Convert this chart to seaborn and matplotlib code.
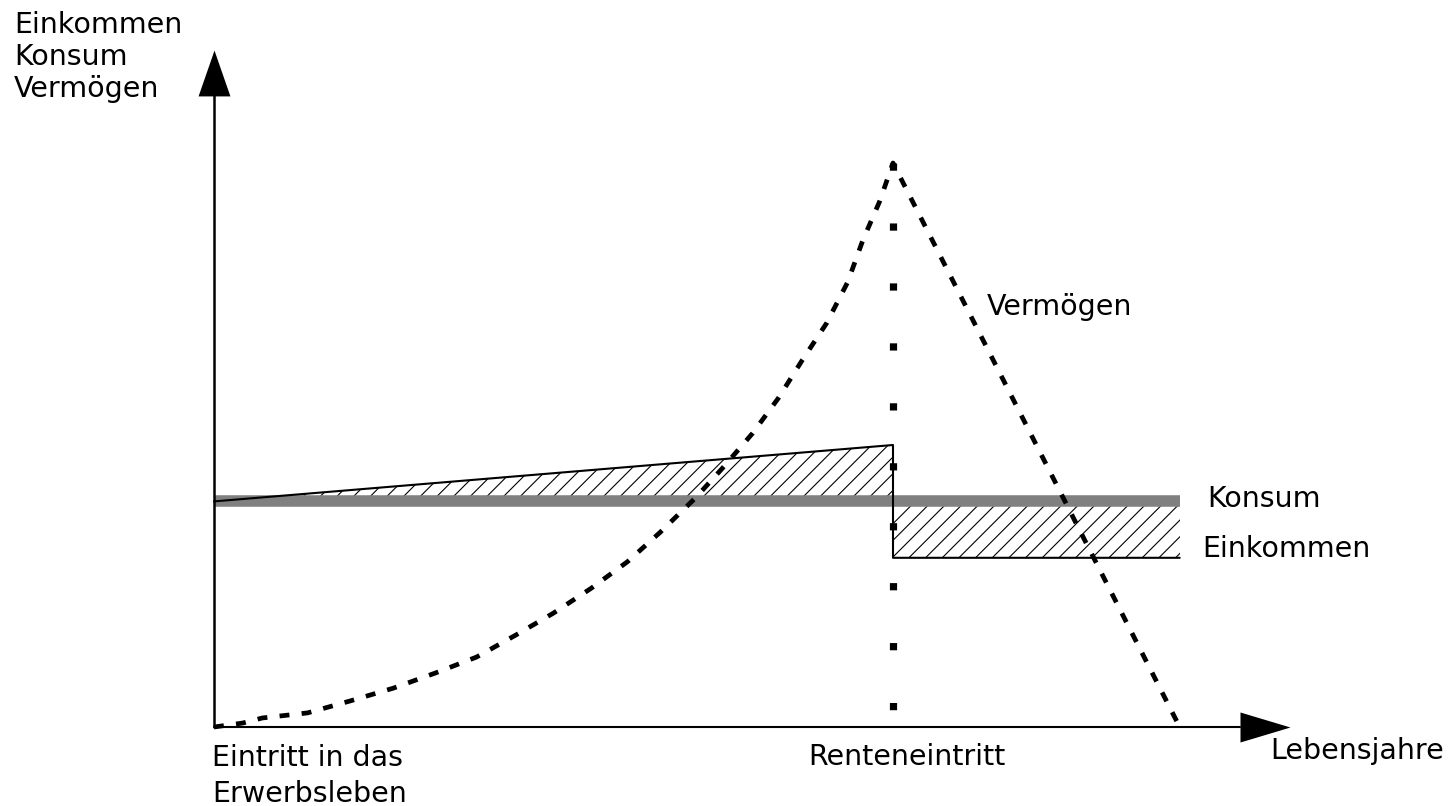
import matplotlib
matplotlib.use("Agg")
import matplotlib.pyplot as plt
import seaborn as sns

# Lebenszyklus: Einkommen, Konsum, Vermögen (schematisch)
start_age = 20
retire_age = 65
end_age = 84

konsum = 40
income_ages = [20, 65, 65, 84]
income_vals = [40, 50, 30, 30]

wealth_ages = [20, 21.9, 23.2, 26.2, 29.0, 31.9, 34.7, 37.4, 40.0, 42.5, 45.0, 47.4,
               49.6, 51.9, 53.7, 55.7, 57.4, 59.0, 60.6, 62.0, 63.0, 64.1, 65.0, 84.0]
wealth_vals = [0, 0.7, 1.6, 2.5, 4.6, 6.9, 9.6, 12.4, 16.3, 20.2, 24.6, 29.3,
               34.6, 40.6, 45.9, 52.1, 58.3, 65.1, 71.6, 78.9, 86.3, 93.1, 100, 0]

W, H = 1454, 806
sns.set_style("white")
plt.rcParams['font.family'] = ['DejaVu Sans']
plt.rcParams['hatch.linewidth'] = 0.8

fig = plt.figure(figsize=(W / 100, H / 100), dpi=100)
ax = fig.add_axes([0, 0, 1, 1])
ax.set_xlim(5.817, 102.18)
ax.set_ylim(-14.007, 128.9)
ax.set_axis_off()

# schraffierte Flächen zwischen Einkommen und Konsum
ax.fill_between(income_ages[:2], income_vals[:2], konsum, hatch='//',
                facecolor='none', edgecolor='black', linewidth=0, zorder=1)
ax.fill_between(income_ages[2:], income_vals[2:], konsum, hatch='//',
                facecolor='none', edgecolor='black', linewidth=0, zorder=1)

# Konsum (graues Band)
sns.lineplot(x=[start_age, end_age], y=[konsum, konsum], ax=ax, color='#808080',
             lw=8.3, zorder=2, solid_capstyle='butt')
# Einkommen
sns.lineplot(x=income_ages, y=income_vals, ax=ax, color='black', lw=1.5,
             sort=False, estimator=None, zorder=3)
# Vermögen
sns.lineplot(x=wealth_ages, y=wealth_vals, ax=ax, color='black', lw=3.4,
             sort=False, estimator=None, linestyle=(0, (2.1, 2.6)), zorder=4)
# punktierte Linie beim Renteneintritt
ax.plot([retire_age, retire_age], [max(wealth_vals), 0], color='black', lw=5.2,
        linestyle=(0, (1, 7.3)), zorder=4)

# Achsen mit Pfeilen
ax.plot([start_age, start_age], [0, 112], color='black', lw=1.8, zorder=5)
ax.plot([start_age, 88], [0, 0], color='black', lw=1.5, zorder=5)
ax.plot(start_age, 116, marker=[(-16, -23), (16, -23), (0, 23)], ms=33,
        color='black', mew=0, zorder=6)
ax.plot(89.65, 0, marker=[(-25, -15), (-25, 15), (25, 0)], ms=36,
        color='black', mew=0, zorder=6)

fs = 20.5


def label(x, y, s, **kw):
    fig.text(x / W, 1 - y / H, s, fontsize=fs, color='black', va='baseline', **kw)


label(14, 97, "Einkommen\nKonsum\nVermögen", linespacing=1.18)
label(987, 315, "Vermögen")
label(1207, 507, "Konsum")
label(1202, 557, "Einkommen")
label(212, 802, "Eintritt in das\nErwerbsleben", linespacing=1.36)
label(808, 765, "Renteneintritt")
label(1270, 759, "Lebensjahre")

fig.savefig("out.png", dpi=100)
